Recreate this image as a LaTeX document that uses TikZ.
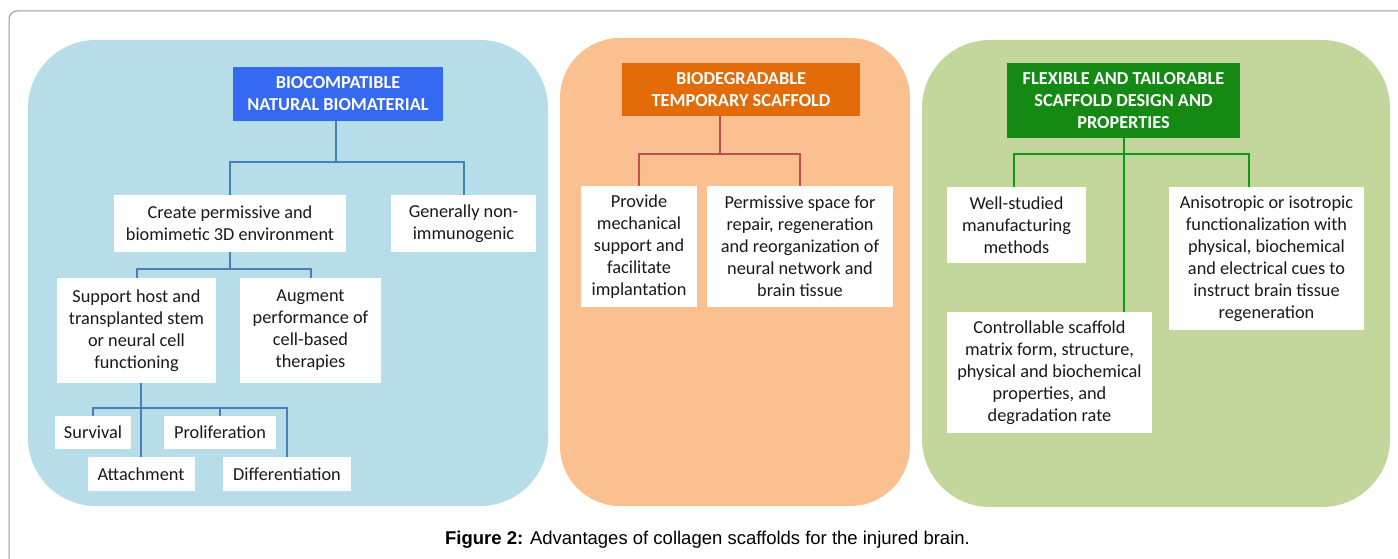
\documentclass[tikz,border=0pt]{standalone}
\usepackage{fontspec}
\setmainfont{Carlito}
\newfontfamily\capfont{Liberation Sans}
\usetikzlibrary{calc}
\definecolor{bluepanel}{HTML}{B7DEE8}
\definecolor{bluetitle}{HTML}{3569F2}
\definecolor{blueline}{HTML}{4A7EBB}
\definecolor{orangepanel}{HTML}{FAC090}
\definecolor{orangetitle}{HTML}{E36C09}
\definecolor{redline}{HTML}{C0504D}
\definecolor{greenpanel}{HTML}{C3D69B}
\definecolor{greentitle}{HTML}{148A14}
\definecolor{greenline}{HTML}{119A11}
\definecolor{txt}{HTML}{1A1A1A}
\tikzset{
  wbox/.style={fill=white, align=center, inner sep=0pt, text=txt,
    font=\fontsize{18.3}{22}\selectfont},
  tbox/.style={align=center, inner sep=0pt, text=white,
    font=\fontsize{18.3}{22}\selectfont\bfseries},
  conn/.style={line width=2pt},
}
\begin{document}
\begin{tikzpicture}[x=1pt,y=-1pt]
\useasboundingbox (0,0) rectangle (1398,559);
\clip (0,0) rectangle (1398,559);
\fill[white] (0,0) rectangle (1398,559);
% outer frame
\draw[gray!80, line width=1pt, rounded corners=8] (9,600) -- (9,11) -- (1420,11);
% panels
\fill[bluepanel, rounded corners=68] (28,40) rectangle (548,506);
\fill[orangepanel, rounded corners=60] (560,38) rectangle (910,506);
\fill[greenpanel, rounded corners=68] (922,40) rectangle (1390,507);

% ---- left panel
\node[tbox, fill=bluetitle, minimum width=210, minimum height=54] (bt) at (338,94) {BIOCOMPATIBLE\\NATURAL BIOMATERIAL};
\node[wbox, minimum width=232, minimum height=57] (create) at (230,223.5) {Create permissive and\\biomimetic 3D environment};
\node[wbox, minimum width=145, minimum height=57] (gen) at (463.5,223.5) {Generally non-\\immunogenic};
\node[wbox, minimum width=159, minimum height=105] (support) at (136.5,330.5) {Support host and\\transplanted stem\\or neural cell\\functioning};
\node[wbox, minimum width=141, minimum height=105] (augment) at (310.5,330.5) {Augment\\performance of\\cell-based\\therapies};
\node[wbox, minimum width=76, minimum height=33] (surv) at (93,432.5) {Survival};
\node[wbox, minimum width=112, minimum height=33] (prolif) at (220,432.5) {Proliferation};
\node[wbox, minimum width=107, minimum height=34] (attach) at (141,474) {Attachment};
\node[wbox, minimum width=128, minimum height=34] (diff) at (287,474) {Differentiation};
\coordinate (lb1) at (336,162);
\draw[conn, blueline] (bt.south -| lb1) -- (lb1);
\draw[conn, blueline] (create.north) |- (lb1) -| (gen.north);
\coordinate (lb2) at (230,269);
\draw[conn, blueline] (create.south) -- (lb2);
\draw[conn, blueline] (support.north) |- (lb2) -| (augment.north);
\draw[conn, blueline] (attach.north) -- (attach.north |- support.south);
\coordinate (lb3) at (141,408);
\draw[conn, blueline] (surv.north) |- (lb3) -| (diff.north);
\draw[conn, blueline] (prolif.north) -- (prolif.north |- lb3);

% ---- middle panel
\node[tbox, fill=orangetitle, minimum width=238, minimum height=53] (ot) at (741,89.5) {BIODEGRADABLE\\TEMPORARY SCAFFOLD};
\node[wbox, minimum width=116, minimum height=121] (provide) at (639,246.5) {Provide\\mechanical\\support and\\facilitate\\implantation};
\node[wbox, minimum width=186, minimum height=121] (perm) at (800,246.5) {Permissive space for\\repair, regeneration\\and reorganization of\\neural network and\\brain tissue};
\coordinate (mb) at ($(provide.north)!0.5!(perm.north)$);
\coordinate (mb1) at (mb |- 0,154);
\draw[conn, redline] (mb1 |- ot.south) -- (mb1);
\draw[conn, redline] (provide.north) |- (mb1) -| (perm.north);

% ---- right panel
\node[tbox, fill=greentitle, minimum width=233, minimum height=75] (gt) at (1123.5,100.5) {FLEXIBLE AND TAILORABLE\\SCAFFOLD DESIGN AND\\PROPERTIES};
\node[wbox, minimum width=139, minimum height=76] (well) at (1016.5,225) {Well-studied\\manufacturing\\methods};
\node[wbox, minimum width=195, minimum height=143] (aniso) at (1266.5,258.5) {Anisotropic or isotropic\\functionalization with\\physical, biochemical\\and electrical cues to\\instruct brain tissue\\regeneration};
\node[wbox, minimum width=205, minimum height=121] (ctrl) at (1049.5,372.5) {Controllable scaffold\\matrix form, structure,\\physical and biochemical\\properties, and\\degradation rate};
\coordinate (rb) at (1124,154);
\coordinate (rbA) at ($(aniso.north)+(-18,0)$);
\draw[conn, greenline] (gt.south -| rb) -- (rb |- ctrl.north);
\draw[conn, greenline] (well.north -| 1014,0) |- (rb) -| (rbA);

% caption
\node[font=\capfont\fontsize{18.5}{22}\selectfont, text=black] (cap) at (707.5,540) {\textbf{Figure 2:} Advantages of collagen scaffolds for the injured brain.};
\end{tikzpicture}
\end{document}
